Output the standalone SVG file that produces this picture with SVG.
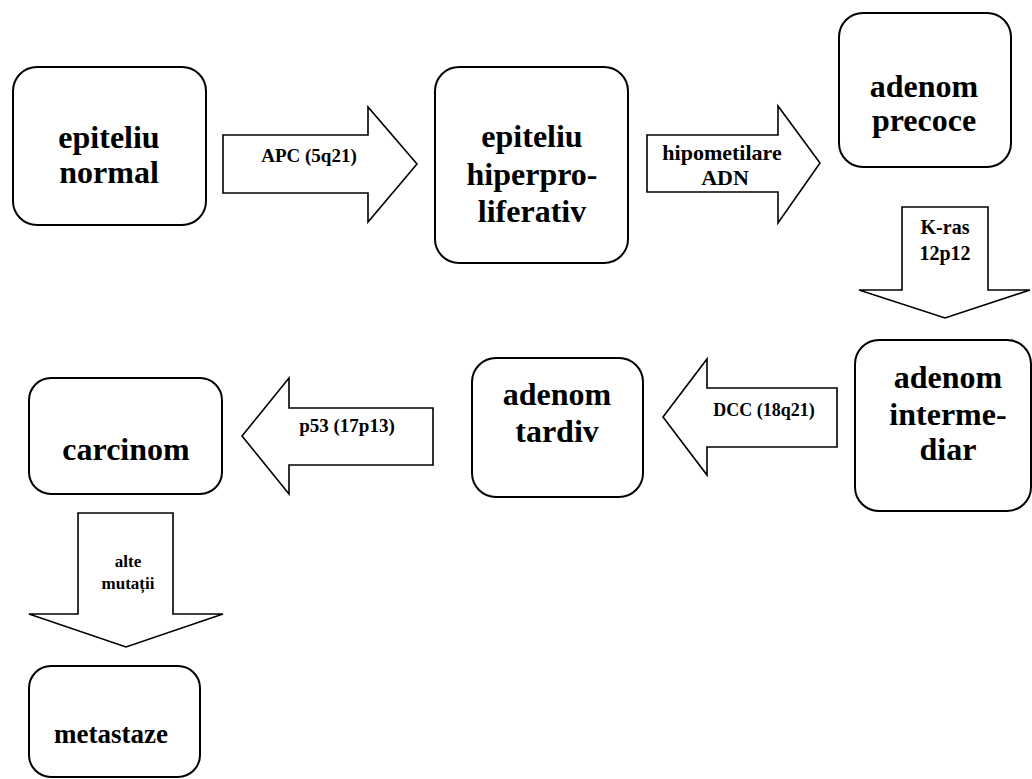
<svg xmlns="http://www.w3.org/2000/svg" width="1032" height="779" viewBox="0 0 1032 779">
  <style>
    .box { fill: #ffffff; stroke: #000000; stroke-width: 2; }
    .arrow { fill: #ffffff; stroke: #000000; stroke-width: 1.6; stroke-linejoin: miter; }
    .title { font-family: "Liberation Serif", "Times New Roman", serif; font-weight: bold; font-size: 32px; fill: #000000; text-anchor: middle; }
    .label { font-family: "Liberation Serif", "Times New Roman", serif; font-weight: bold; font-size: 19px; fill: #000000; text-anchor: middle; }
  </style>
  <rect width="1032" height="779" fill="#ffffff"/>

  <!-- block arrows between stages -->
  <g id="connectors">
    <g id="arrow-apc">
      <polygon class="arrow" points="223,135 368,135 368,107 417,164 368,222 368,193 223,193"/>
      <text class="label" x="309" y="162">APC (5q21)</text>
    </g>
    <g id="arrow-hipometilare">
      <polygon class="arrow" points="647,135 778,135 778,106 820,163 778,223 778,192 647,192"/>
      <text class="label" x="722" y="160" style="font-size:22px">hipometilare</text>
      <text class="label" x="725" y="185" style="font-size:22px">ADN</text>
    </g>
    <g id="arrow-kras">
      <polygon class="arrow" points="902,207 988,207 988,290 1030,290 945,318 859,290 902,290"/>
      <text class="label" x="945" y="234" style="font-size:20px">K-ras</text>
      <text class="label" x="945" y="260" style="font-size:20px">12p12</text>
    </g>
    <g id="arrow-dcc">
      <polygon class="arrow" points="663,417 707,359 707,388 837,388 837,447 707,447 707,475"/>
      <text class="label" x="764" y="416" style="font-size:18px">DCC (18q21)</text>
    </g>
    <g id="arrow-p53">
      <polygon class="arrow" points="242,436 289,378 289,408 433,408 433,465 289,465 289,494"/>
      <text class="label" x="347" y="432">p53 (17p13)</text>
    </g>
    <g id="arrow-alte">
      <polygon class="arrow" points="78,513 173,513 173,614 223,614 126,647 29,614 78,614"/>
      <text class="label" x="128" y="567" style="font-size:17px">alte</text>
      <text class="label" x="128" y="589" style="font-size:17px">mutații</text>
    </g>
  </g>

  <!-- stages -->
  <g id="epiteliu-normal">
    <rect class="box" x="13" y="67" width="193" height="158" rx="24"/>
    <text class="title" x="109" y="148">epiteliu</text>
    <text class="title" x="109" y="183">normal</text>
  </g>
  <g id="epiteliu-hiperproliferativ">
    <rect class="box" x="435" y="67" width="193" height="196" rx="24"/>
    <text class="title" x="532" y="147">epiteliu</text>
    <text class="title" x="532" y="185">hiperpro-</text>
    <text class="title" x="532" y="222">liferativ</text>
  </g>
  <g id="adenom-precoce">
    <rect class="box" x="839" y="13" width="172" height="154" rx="24"/>
    <text class="title" x="924" y="97">adenom</text>
    <text class="title" x="924" y="131">precoce</text>
  </g>
  <g id="adenom-intermediar">
    <rect class="box" x="855" y="340" width="176" height="171" rx="24"/>
    <text class="title" x="948" y="388">adenom</text>
    <text class="title" x="948" y="425">interme-</text>
    <text class="title" x="948" y="460">diar</text>
  </g>
  <g id="adenom-tardiv">
    <rect class="box" x="472" y="358" width="171" height="139" rx="24"/>
    <text class="title" x="557" y="405">adenom</text>
    <text class="title" x="557" y="442">tardiv</text>
  </g>
  <g id="carcinom">
    <rect class="box" x="29" y="378" width="193" height="116" rx="22"/>
    <text class="title" x="126" y="460">carcinom</text>
  </g>
  <g id="metastaze">
    <rect class="box" x="29" y="666" width="171" height="111" rx="22"/>
    <text class="title" x="111" y="743" style="font-size:27px">metastaze</text>
  </g>
</svg>
